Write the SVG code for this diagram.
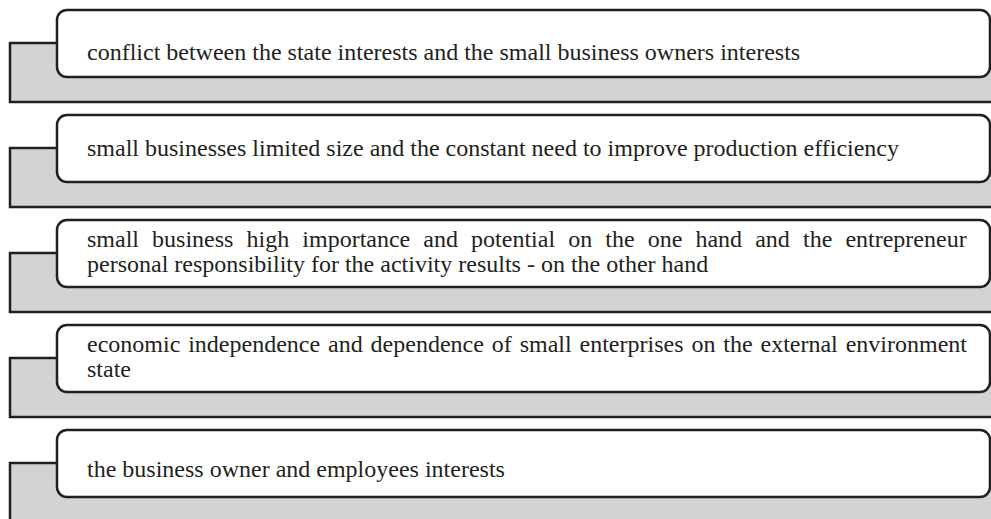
<svg xmlns="http://www.w3.org/2000/svg" width="991" height="519" viewBox="0 0 991 519">
<style>
.bg{fill:#d3d3d5;stroke:#231f20;stroke-width:2.5}
.box{fill:#ffffff;stroke:#231f20;stroke-width:2.5}
.t{font-family:"Liberation Serif","Times New Roman",serif;font-size:24px;fill:#231f20}
</style>
<rect width="991" height="519" fill="#ffffff"/>
<g id="node1">
<rect class="bg" x="10" y="43" width="1000" height="59"/>
<rect class="box" x="57" y="10" width="933" height="67" rx="10"/>
<text class="t" x="87" y="60">conflict between the state interests and the small business owners interests</text>
</g>
<g id="node2">
<rect class="bg" x="10" y="148" width="1000" height="59"/>
<rect class="box" x="57" y="115" width="933" height="67" rx="10"/>
<text class="t" x="87" y="156">small businesses limited size and the constant need to improve production efficiency</text>
</g>
<g id="node3">
<rect class="bg" x="10" y="253" width="1000" height="59"/>
<rect class="box" x="57" y="220" width="933" height="67" rx="10"/>
<text class="t"><tspan x="87" y="247" word-spacing="7.1">small business high importance and potential on the one hand and the entrepreneur</tspan><tspan x="87" y="272">personal responsibility for the activity results - on the other hand</tspan></text>
</g>
<g id="node4">
<rect class="bg" x="10" y="358" width="1000" height="59"/>
<rect class="box" x="57" y="325" width="933" height="67" rx="10"/>
<text class="t"><tspan x="87" y="352" word-spacing="1.9">economic independence and dependence of small enterprises on the external environment</tspan><tspan x="87" y="377">state</tspan></text>
</g>
<g id="node5">
<rect class="bg" x="10" y="463" width="1000" height="59"/>
<rect class="box" x="57" y="430" width="933" height="67" rx="10"/>
<text class="t" x="87" y="477">the business owner and employees interests</text>
</g>
</svg>
